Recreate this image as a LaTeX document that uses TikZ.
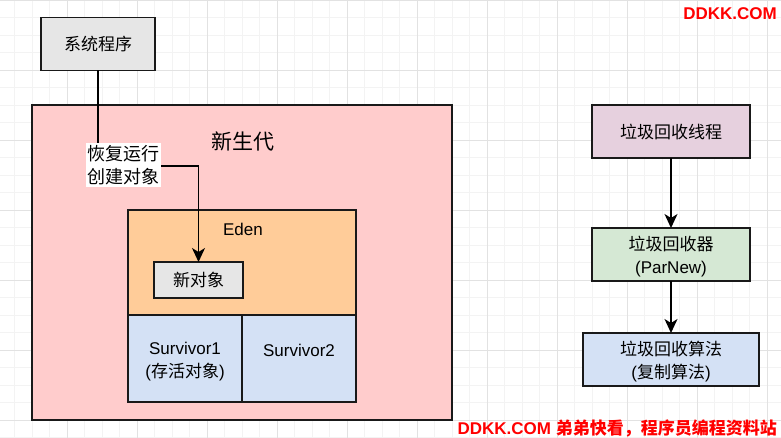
\documentclass[tikz,border=0pt]{standalone}
\usepackage{fontspec}
\setmainfont{Liberation Sans}
\newfontfamily\cjk{Noto Sans CJK SC}
\usetikzlibrary{arrows.meta}
\definecolor{gridminor}{HTML}{F3F3F3}
\definecolor{gridmajor}{HTML}{E2E2E2}
\definecolor{grayfill}{HTML}{E6E6E6}
\definecolor{pinkfill}{HTML}{FFCCCC}
\definecolor{orangefill}{HTML}{FFCC99}
\definecolor{bluefill}{HTML}{D4E1F5}
\definecolor{purplefill}{HTML}{E6D0DE}
\definecolor{greenfill}{HTML}{D5E8D4}
\definecolor{wmred}{HTML}{FF0000}
\newcommand{\zh}[1]{{\cjk #1}}
\tikzset{
  box/.style={draw=black!90, line width=1.5pt, inner sep=0pt, outer sep=0pt},
  txt/.style={font=\fontsize{17}{23}\selectfont, align=center, inner sep=0pt},
  arr/.style={line width=1.5pt, -{Stealth[length=14pt,width=13pt,inset=4pt]}},
  wm/.style={text=wmred, font=\fontsize{17}{20}\selectfont\bfseries, inner sep=0pt}
}
\begin{document}
\begin{tikzpicture}[x=1pt,y=-1pt]
\useasboundingbox (0,0) rectangle (781,438);
\fill[white] (0,0) rectangle (781,438);
% grid
\foreach \i in {0,...,45} {
  \pgfmathsetmacro\xx{-3+17.5*\i}
  \draw[gridminor, line width=0.8pt] (\xx,0) -- (\xx,438);
}
\foreach \i in {0,...,25} {
  \pgfmathsetmacro\yy{17.5*\i}
  \draw[gridminor, line width=0.8pt] (0,\yy) -- (781,\yy);
}
\foreach \i in {0,...,11} {
  \pgfmathsetmacro\xx{-3+70*\i}
  \draw[gridmajor, line width=0.8pt] (\xx,0) -- (\xx,438);
}
\foreach \i in {0,...,6} {
  \pgfmathsetmacro\yy{70*\i}
  \draw[gridmajor, line width=0.8pt] (0,\yy) -- (781,\yy);
}
% left part
\node[box, fill=grayfill, minimum width=114pt, minimum height=53pt] (sys) at (98,44) {};
\node[txt] (systxt) at (sys.center) {\zh{系统程序}};
\node[box, fill=pinkfill, minimum width=420pt, minimum height=315pt] (young) at (242,262.5) {};
\node[txt, font=\fontsize{21}{24}\selectfont] (youngtxt) at (243,142) {\zh{新生代}};
\node[box, fill=orangefill, minimum width=228pt, minimum height=105pt] (eden) at (242,262.5) {};
\node[txt] (edentxt) at (243,229) {Eden};
\node[box, fill=grayfill, minimum width=89pt, minimum height=36pt] (newobj) at (198.5,280) {};
\node[txt] (newobjtxt) at (newobj.center) {\zh{新对象}};
\node[box, fill=bluefill, minimum width=114pt, minimum height=87pt] (s1) at (185,358.5) {};
\node[box, fill=bluefill, minimum width=114pt, minimum height=87pt] (s2) at (299,358.5) {};
\node[txt] (s1txt) at (185,362) {Survivor1\\(\zh{存活对象})};
\node[txt] (s2txt) at (299,350) {Survivor2};
% connector
\coordinate (bend) at (198.5,166);
\draw[arr] (sys.south) |- (bend) -- (newobj.north);
\node[txt, fill=white, font=\fontsize{18}{23}\selectfont, inner xsep=1.5pt, inner ysep=2pt] (lbl) at (123.5,165) {\zh{恢复运行}\\\zh{创建对象}};
% right part
\node[box, fill=purplefill, minimum width=158pt, minimum height=53pt] (thread) at (671,131.5) {};
\node[txt] (threadtxt) at (thread.center) {\zh{垃圾回收线程}};
\node[box, fill=greenfill, minimum width=158pt, minimum height=53pt] (coll) at (671,254.5) {};
\node[txt] (colltxt) at (671,257) {\zh{垃圾回收器}\\(ParNew)};
\node[box, fill=bluefill, minimum width=176pt, minimum height=53pt] (algo) at (671,359.5) {};
\node[txt] (algotxt) at (671,362) {\zh{垃圾回收算法}\\(\zh{复制算法})};
\draw[arr] (thread.south) -- (coll.north);
\draw[arr] (coll.south) -- (algo.north);
% watermarks
\node[wm, anchor=east] (wm1) at (777,14) {DDKK.COM};
\node[wm, anchor=east] (wm2) at (777,428) {DDKK.COM \zh{弟弟快看，程序员编程资料站}};
\end{tikzpicture}
\end{document}
